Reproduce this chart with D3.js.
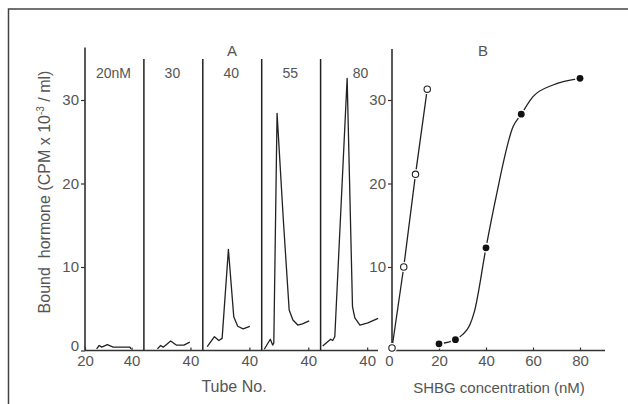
<!DOCTYPE html>
<html>
<head>
<meta charset="utf-8">
<title>SHBG binding</title>
<style>
body { margin: 0; background: #fff; }
svg text { font-family: 'Liberation Sans', Arial, sans-serif; fill: #555; }
.axis path { display: none; }
.axis line { stroke: #333; stroke-width: 1.2; }
.axis text { font-size: 15px; fill: #555; }
.trace { fill: none; stroke: #222; stroke-width: 1.3; stroke-linejoin: round; }
</style>
</head>
<body>
<div id="chart"></div>
<script src="https://cdnjs.cloudflare.com/ajax/libs/d3/7.8.5/d3.min.js"></script>
<script>

// panel A: elution profiles, one per SHBG concentration
var concLabels = ["20nM", "30", "40", "55", "80"];
var tubes = [
  [25.0, 26.1, 27.2, 29.6, 32.1, 39.3, 39.7],
  [25.8, 27.2, 28.3, 31.5, 33.9, 37.2, 39.7],
  [21.9, 25.0, 26.9, 28.3, 31.0, 33.3, 35.0, 37.3, 40.2],
  [21.1, 23.7, 24.7, 25.2, 26.6, 29.3, 31.8, 33.4, 35.5, 37.5, 40.4],
  [20.9, 24.3, 25.2, 26.1, 31.4, 33.7, 34.7, 36.9, 40.3, 44.7]
];
var bound = [
  [0.2, 0.6, 0.4, 0.7, 0.4, 0.4, 0.2],
  [0.2, 0.6, 0.4, 1.15, 0.65, 0.65, 1.0],
  [0.45, 1.65, 1.2, 1.45, 12.1, 4.05, 2.9, 2.6, 2.9],
  [0.15, 1.35, 0.65, 0.9, 28.4, 15.6, 4.85, 3.65, 3.05, 3.2, 3.55],
  [0.55, 1.35, 1.2, 1.65, 32.6, 5.25, 3.9, 3.05, 3.3, 3.85]
];

// panel B: bound hormone vs SHBG concentration
var openConc = [0, 5, 10, 15];
var openBound = [0.3, 10, 21.1, 31.3];
var fillConc = [20, 27, 40, 55, 80];
var fillBound = [0.8, 1.3, 12.3, 28.3, 32.6];
// hand-drawn curve through the filled points
var fitConc = [20, 27, 30, 33, 35, 40, 44, 51.5, 55, 60, 68.5, 80];
var fitBound = [0.8, 1.3, 1.9, 3.0, 4.6, 12.3, 18, 26.8, 28.3, 30.4, 31.8, 32.6];

var yTicks = [0, 10, 20, 30];
var concTicks = [0, 20, 40, 60, 80];

var width = 628, height = 404;

var svg = d3.select("#chart").append("svg")
    .attr("width", width)
    .attr("height", height);

var y = d3.scaleLinear().domain([0, 30]).range([350.5, 100]);

var panels = d3.scaleBand()
    .domain(d3.range(concLabels.length))
    .range([85, 379.5]);

var conc = d3.scaleLinear().domain([0, 80]).range([392, 580]);

// frame
svg.append("path")
    .attr("d", "M8.5,404V9H628")
    .attr("fill", "none")
    .attr("stroke", "#444")
    .attr("stroke-width", 1.5);

// ---- panel A ----
svg.append("line")
    .attr("x1", 85).attr("x2", 85)
    .attr("y1", y(36.3)).attr("y2", y(0))
    .attr("stroke", "#222").attr("stroke-width", 1.5);

svg.append("line")
    .attr("x1", 85).attr("x2", 378)
    .attr("y1", y(0)).attr("y2", y(0))
    .attr("stroke", "#333").attr("stroke-width", 1.3);

svg.append("g")
    .attr("class", "axis")
    .attr("transform", "translate(85,0)")
    .call(d3.axisLeft(y).tickValues(yTicks).tickSize(4).tickPadding(2))
  .selectAll("text")
    .attr("dy", function(d) { return d === 0 ? "0" : "0.32em"; });

concLabels.forEach(function(lab, i) {
  var left = panels(i);
  var x = d3.scaleLinear().domain([20, 45.3]).range([left, left + panels.bandwidth()]);

  if (i > 0) {
    svg.append("line")
        .attr("x1", left).attr("x2", left)
        .attr("y1", y(34.9)).attr("y2", y(0))
        .attr("stroke", "#222").attr("stroke-width", 1.5);
  }

  svg.append("g")
      .attr("class", "axis")
      .attr("transform", "translate(0," + y(0) + ")")
      .call(d3.axisBottom(x).tickValues(i === 0 ? [20, 40] : [40]).tickSize(-3).tickPadding(5));

  var line = d3.line()
      .x(function(d) { return x(d[0]); })
      .y(function(d) { return y(d[1]); });

  svg.append("path")
      .attr("class", "trace")
      .attr("d", line(d3.zip(tubes[i], bound[i])));

  svg.append("text")
      .attr("x", left + (i === concLabels.length - 1 ? 40 : 28.5))
      .attr("y", 78)
      .attr("text-anchor", "middle")
      .style("font-size", "14px")
      .text(lab);
});

// ---- panel B ----
svg.append("line")
    .attr("x1", 392).attr("x2", 392)
    .attr("y1", y(36.1)).attr("y2", y(0))
    .attr("stroke", "#222").attr("stroke-width", 1.5);

svg.append("line")
    .attr("x1", 392).attr("x2", 605)
    .attr("y1", y(0)).attr("y2", y(0))
    .attr("stroke", "#333").attr("stroke-width", 1.3);

svg.append("g")
    .attr("class", "axis")
    .attr("transform", "translate(392,0)")
    .call(d3.axisLeft(y).tickValues(yTicks.slice(1)).tickSize(4).tickPadding(2));

svg.append("g")
    .attr("class", "axis")
    .attr("transform", "translate(0," + y(0) + ")")
    .call(d3.axisBottom(conc).tickValues(concTicks).tickSize(-3).tickPadding(5))
  .selectAll("text")
    .attr("dx", function(d) { return d === 0 ? "-0.2em" : 0; });

var openPts = d3.zip(openConc, openBound);
var fillPts = d3.zip(fillConc, fillBound);

svg.append("path")
    .attr("class", "trace")
    .attr("d", d3.line()
        .x(function(d) { return conc(d[0]); })
        .y(function(d) { return y(d[1]); })(openPts));

svg.append("path")
    .attr("class", "trace")
    .attr("d", d3.line()
        .curve(d3.curveMonotoneX)
        .x(function(d) { return conc(d[0]); })
        .y(function(d) { return y(d[1]); })(d3.zip(fitConc, fitBound)));

// white halos leave the little gaps around the markers
svg.selectAll(".halo")
    .data(openPts.concat(fillPts))
    .enter().append("circle")
    .attr("class", "halo")
    .attr("cx", function(d) { return conc(d[0]); })
    .attr("cy", function(d) { return y(d[1]); })
    .attr("r", 5)
    .attr("fill", "#fff");

svg.selectAll(".open")
    .data(openPts)
    .enter().append("circle")
    .attr("class", "open")
    .attr("cx", function(d) { return conc(d[0]); })
    .attr("cy", function(d) { return y(d[1]); })
    .attr("r", 3.2)
    .attr("fill", "#fff")
    .attr("stroke", "#222")
    .attr("stroke-width", 1.1);

svg.selectAll(".filled")
    .data(fillPts)
    .enter().append("circle")
    .attr("class", "filled")
    .attr("cx", function(d) { return conc(d[0]); })
    .attr("cy", function(d) { return y(d[1]); })
    .attr("r", 3.4)
    .attr("fill", "#111");

// ---- titles ----
svg.append("text").attr("x", 232).attr("y", 56).attr("text-anchor", "middle")
    .style("font-size", "15px").text("A");
svg.append("text").attr("x", 483).attr("y", 56).attr("text-anchor", "middle")
    .style("font-size", "15px").text("B");

svg.append("text").attr("x", 234).attr("y", 392).attr("text-anchor", "middle")
    .style("font-size", "16px").text("Tube No.");
svg.append("text").attr("x", 499).attr("y", 393).attr("text-anchor", "middle")
    .style("font-size", "15px").text("SHBG concentration (nM)");

var ylab = svg.append("text")
    .attr("transform", "translate(49.5,192) rotate(-90)")
    .attr("text-anchor", "middle")
    .style("font-size", "16px");
ylab.append("tspan").text("Bound  hormone (CPM x 10").attr("xml:space", "preserve");
ylab.append("tspan").attr("dy", -6).style("font-size", "10px").text("-3");
ylab.append("tspan").attr("dy", 6).text(" / ml)");

</script>
</body>
</html>
